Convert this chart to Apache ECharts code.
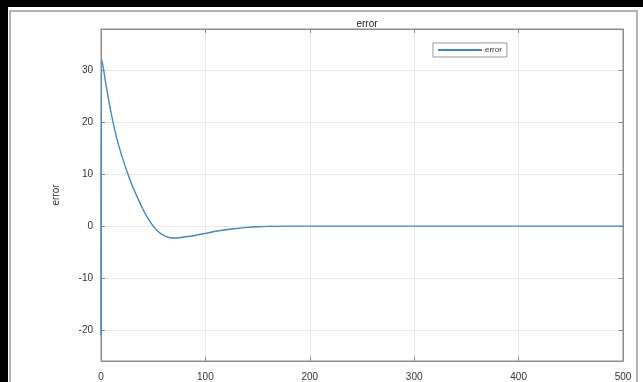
<!DOCTYPE html>
<html>
<head>
<meta charset="utf-8">
<script src="https://cdn.jsdelivr.net/npm/echarts@6/dist/echarts.min.js"></script>
<style>html,body{margin:0;padding:0;background:#fff}#c{width:643px;height:382px}</style>
</head>
<body>
<div id="c"></div>
<script>
var titleText = 'error';
var seriesName = 'error';
var tVals = [0, 1, 5, 10, 15, 20, 25, 30, 35, 40, 45, 50, 55, 60, 65, 70, 75, 80, 90, 100, 110, 120, 130, 140, 150, 160, 180, 200, 300, 400, 500];
var errVals = [-21, 32, 27, 21.5, 17, 13.5, 10.5, 7.8, 5.5, 3.3, 1.5, 0, -1.1, -1.8, -2.2, -2.3, -2.25, -2.1, -1.8, -1.4, -1.0, -0.7, -0.45, -0.25, -0.12, -0.05, 0, 0, 0, 0, 0];
var yTicks = [-20, -10, 0, 10, 20, 30];
var xTicks = [0, 100, 200, 300, 400, 500];

var data = tVals.map(function (t, i) { return [t, errVals[i]]; });
var font = 'Liberation Sans, Arial, sans-serif';
var axisGray = '#8c8c8c';
var gridGray = '#e8e8e8';

var chart = echarts.init(document.getElementById('c'), null, {renderer: 'canvas'});
chart.setOption({
  animation: false,
  backgroundColor: '#ffffff',
  title: {
    text: titleText, left: 362, top: 14, textAlign: 'center',
    textStyle: {fontSize: 10, fontWeight: 'normal', color: '#222', fontFamily: font}
  },
  legend: {
    left: 433, top: 43, padding: [3, 5, 3, 5],
    borderColor: '#999', borderWidth: 1, backgroundColor: '#fff',
    itemWidth: 44, itemHeight: 2, itemGap: 4,
    icon: 'rect',
    textStyle: {fontSize: 8, color: '#333', fontFamily: font, padding: [0, 0, 0, -2]},
    data: [seriesName]
  },
  grid: {left: 101, top: 29, width: 522, height: 334, show: true, borderColor: axisGray, borderWidth: 1, backgroundColor: '#fff'},
  xAxis: [{
    type: 'value', min: 0, max: 500, interval: 100,
    axisLine: {show: true, onZero: false, lineStyle: {color: axisGray}},
    axisTick: {show: true, inside: true, length: 4, lineStyle: {color: axisGray}},
    axisLabel: {fontSize: 10, color: '#333', margin: 11, fontFamily: font},
    splitLine: {show: true, lineStyle: {color: gridGray}}
  }, {
    type: 'value', position: 'top', min: 0, max: 500, interval: 100,
    axisLine: {show: true, onZero: false, lineStyle: {color: axisGray}},
    axisTick: {show: true, inside: true, length: 4, lineStyle: {color: axisGray}},
    axisLabel: {show: false}, splitLine: {show: false}
  }],
  yAxis: [{
    type: 'value', min: -26, max: 38,
    name: 'error', nameLocation: 'middle', nameGap: 40, nameRotate: 90,
    nameTextStyle: {fontSize: 10, color: '#333', fontFamily: font},
    axisLine: {show: true, onZero: false, lineStyle: {color: axisGray}},
    axisTick: {show: true, inside: true, length: 4, customValues: yTicks, lineStyle: {color: axisGray}},
    axisLabel: {fontSize: 10, color: '#333', margin: 8, customValues: yTicks, fontFamily: font},
    splitLine: {show: true, lineStyle: {color: gridGray}}
  }, {
    type: 'value', position: 'right', min: -26, max: 38,
    axisLine: {show: true, onZero: false, lineStyle: {color: axisGray}},
    axisTick: {show: true, inside: true, length: 4, customValues: yTicks, lineStyle: {color: axisGray}},
    axisLabel: {show: false}, splitLine: {show: false}
  }],
  series: [{
    name: seriesName, type: 'line', data: data, symbol: 'none', smooth: 0.3,
    xAxisIndex: 0, yAxisIndex: 0,
    lineStyle: {color: '#3f88c5', width: 1.4}, itemStyle: {color: '#3f88c5'}
  }],
  graphic: [
    {type: 'rect', shape: {x: 10, y: 11, width: 627, height: 400}, style: {fill: null, stroke: '#9a9a9a', lineWidth: 1.5}, silent: true, z: 100},
    {type: 'rect', shape: {x: 0, y: 0, width: 643, height: 7}, style: {fill: '#000'}, silent: true, z: 101},
    {type: 'rect', shape: {x: 0, y: 0, width: 8, height: 382}, style: {fill: '#000'}, silent: true, z: 101}
  ]
});
</script>
</body>
</html>
